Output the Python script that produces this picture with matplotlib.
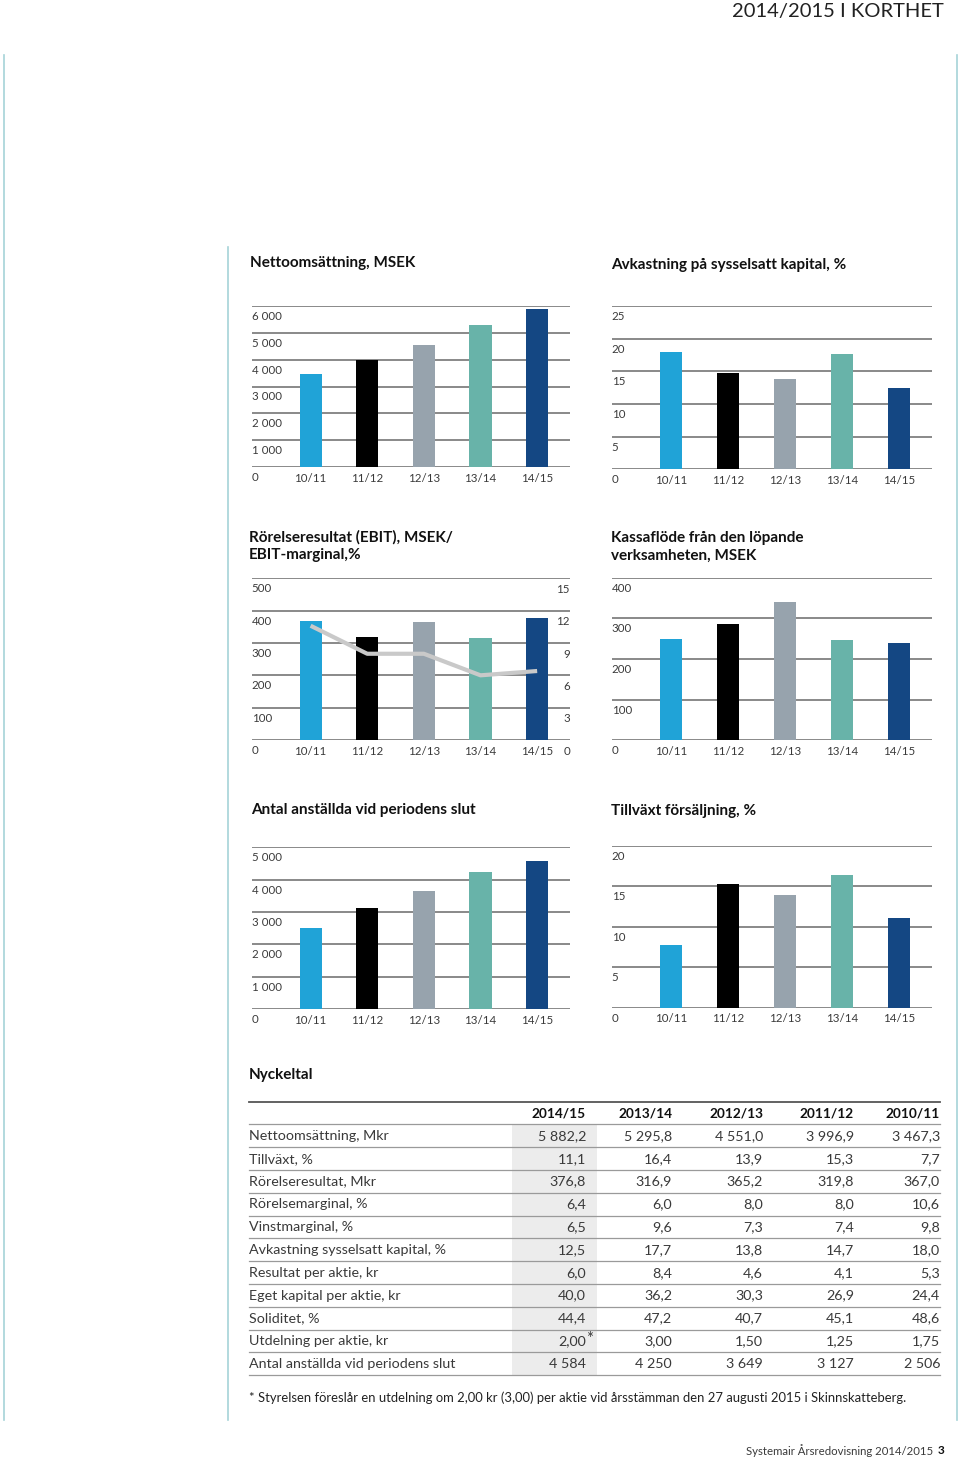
import numpy as np
import matplotlib
matplotlib.use('Agg')
import matplotlib.pyplot as plt
from matplotlib.lines import Line2D

plt.rcParams['font.family'] = ['Lato', 'DejaVu Sans']

periods = ['10/11', '11/12', '12/13', '13/14', '14/15']
net_sales = [3467.3, 3996.9, 4551.0, 5295.8, 5882.2]
roce = [18.0, 14.7, 13.8, 17.7, 12.5]
ebit = [367.0, 319.8, 365.2, 316.9, 376.8]
ebit_margin = [10.6, 8.0, 8.0, 6.0, 6.4]
cash_flow = [248, 287, 341, 247, 239]
employees = [2506, 3127, 3649, 4250, 4584]
growth = [7.7, 15.3, 13.9, 16.4, 11.1]

table_years = ['2014/15', '2013/14', '2012/13', '2011/12', '2010/11']
table_rows = ['Nettoomsättning, Mkr', 'Tillväxt, %', 'Rörelseresultat, Mkr', 'Rörelsemarginal, %',
              'Vinstmarginal, %', 'Avkastning sysselsatt kapital, %', 'Resultat per aktie, kr',
              'Eget kapital per aktie, kr', 'Soliditet, %', 'Utdelning per aktie, kr',
              'Antal anställda vid periodens slut']
col_1415 = ['5 882,2', '11,1', '376,8', '6,4', '6,5', '12,5', '6,0', '40,0', '44,4', '2,00*', '4 584']
col_1314 = ['5 295,8', '16,4', '316,9', '6,0', '9,6', '17,7', '8,4', '36,2', '47,2', '3,00', '4 250']
col_1213 = ['4 551,0', '13,9', '365,2', '8,0', '7,3', '13,8', '4,6', '30,3', '40,7', '1,50', '3 649']
col_1112 = ['3 996,9', '15,3', '319,8', '8,0', '7,4', '14,7', '4,1', '26,9', '45,1', '1,25', '3 127']
col_1011 = ['3 467,3', '7,7', '367,0', '10,6', '9,8', '18,0', '5,3', '24,4', '48,6', '1,75', '2 506']

bar_colors = ['#20a3d7', '#000000', '#97a3ad', '#68b3a9', '#144783']
grid_col = '#6a6a6a'
txt_col = '#3a3a3a'
edge_col = '#a6d3d8'

W, H = 960, 1460
fig = plt.figure(figsize=(W / 100, H / 100), dpi=100)


def px_axes(x0, y0, x1, y1):
    return fig.add_axes([x0 / W, 1 - y1 / H, (x1 - x0) / W, (y1 - y0) / H])


def ftext(x, y, s, **kw):
    return fig.text(x / W, 1 - y / H, s, **kw)


def fmt(v):
    v = int(v)
    if v >= 1000:
        return f'{v // 1000} {v % 1000:03d}'
    return str(v)


def bar_panel(x0, y0, x1, y1, values, ymax, step):
    ax = px_axes(x0, y0, x1, y1)
    ax.bar(range(5), values, width=0.39, color=bar_colors, zorder=3)
    ax.set_xlim(-1.04, 4.58)
    ax.set_ylim(0, ymax)
    ax.axis('off')
    for t in np.arange(0, ymax + step / 2, step):
        ax.axhline(t, color=grid_col, lw=1.1, zorder=1)
        ax.annotate(fmt(t), xy=(0, t), xycoords=('axes fraction', 'data'), xytext=(0, -3.5),
                    textcoords='offset points', ha='left', va='top', fontsize=8.3, color=txt_col,
                    annotation_clip=False)
    for i, p in enumerate(periods):
        ax.annotate(p, xy=(i, 0), xytext=(0, -4), textcoords='offset points', ha='center',
                    va='top', fontsize=8.3, color=txt_col, annotation_clip=False)
    return ax


# header, page edges
ftext(944, 12, '2014/2015 I KORTHET', ha='right', va='center', fontsize=14.5, color='#222222')
for x, ytop in [(4, 55), (957, 55), (228, 247)]:
    fig.add_artist(Line2D([x / W, x / W], [1 - ytop / H, 1 - 1420 / H], color=edge_col, lw=1.2))

# charts
title_kw = dict(fontsize=11, fontweight='bold', color='#111111', va='center', ha='left')

ftext(250, 263, 'Nettoomsättning, MSEK', **title_kw)
bar_panel(251.7, 306, 570, 467, net_sales, 6000, 1000)

ftext(611, 265, 'Avkastning på sysselsatt kapital, %', **title_kw)
bar_panel(611.7, 306, 931.7, 469.3, roce, 25, 5)

ftext(249, 546, 'Rörelseresultat (EBIT), MSEK/\nEBIT-marginal,%', linespacing=1.35, **title_kw)
ax3 = bar_panel(251.7, 578.3, 570, 740, ebit, 500, 100)
ax3b = ax3.twinx()
ax3b.plot(range(5), ebit_margin, color='#c9c9c9', lw=3, solid_capstyle='butt', zorder=4)
ax3b.set_ylim(0, 15)
ax3b.axis('off')
for t in range(0, 16, 3):
    ax3b.annotate(str(t), xy=(1, t), xycoords=('axes fraction', 'data'), xytext=(0, -4),
                  textcoords='offset points', ha='right', va='top', fontsize=8.3, color=txt_col,
                  annotation_clip=False)

ftext(611, 547, 'Kassaflöde från den löpande\nverksamheten, MSEK', linespacing=1.35, **title_kw)
bar_panel(611.7, 577.7, 931.7, 740.3, cash_flow, 400, 100)

ftext(251, 810, 'Antal anställda vid periodens slut', **title_kw)
bar_panel(251.7, 847.3, 570, 1009, employees, 5000, 1000)

ftext(611, 811, 'Tillväxt försäljning, %', **title_kw)
bar_panel(611.7, 845.7, 931.7, 1007.7, growth, 20, 5)

# key figures table
ftext(249, 1075, 'Nyckeltal', **title_kw)
tab = px_axes(0, 0, W, H)
tab.set_xlim(0, W)
tab.set_ylim(H, 0)
tab.axis('off')
tab.add_patch(plt.Rectangle((512, 1124.3), 85, 1376 - 1124.3, color='#ececec', lw=0, zorder=0))
tab.plot([249, 940], [1101.7, 1101.7], color='#555555', lw=1.3)
row_h = 22.8
for i in range(len(table_rows) + 1):
    y = 1124.3 + i * row_h
    tab.plot([249, 940], [y, y], color='#9a9a9a', lw=0.9)

col_x = [586, 672, 763, 854, 940]
cols = [col_1415, col_1314, col_1213, col_1112, col_1011]
for x, yr in zip(col_x, table_years):
    tab.text(x, 1113, yr, ha='right', va='center', fontsize=9.8, fontweight='bold', color='#111111')
for i, lab in enumerate(table_rows):
    y = 1136 + i * row_h
    tab.text(249, y, lab, ha='left', va='center', fontsize=10.3, color=txt_col)
    for x, c in zip(col_x, cols):
        s = c[i]
        if s.endswith('*'):
            tab.text(x, y, s[:-1], ha='right', va='center', fontsize=10.3, color=txt_col)
            tab.text(x, y - 2, '*', ha='left', va='center', fontsize=12, color=txt_col)
        else:
            tab.text(x, y, s, ha='right', va='center', fontsize=10.3, color=txt_col)

ftext(249, 1398, '* Styrelsen föreslår en utdelning om 2,00 kr (3,00) per aktie vid årsstämman '
      'den 27 augusti 2015 i Skinnskatteberg.', ha='left', va='center', fontsize=9.4, color='#222222')

# footer
ftext(944, 1451, '3', ha='right', va='center', fontsize=8.5, fontweight='bold', color='#111111')
ftext(933, 1451, 'Systemair Årsredovisning 2014/2015', ha='right', va='center', fontsize=8.2,
      color=txt_col)

fig.savefig('out.png', dpi=100)
